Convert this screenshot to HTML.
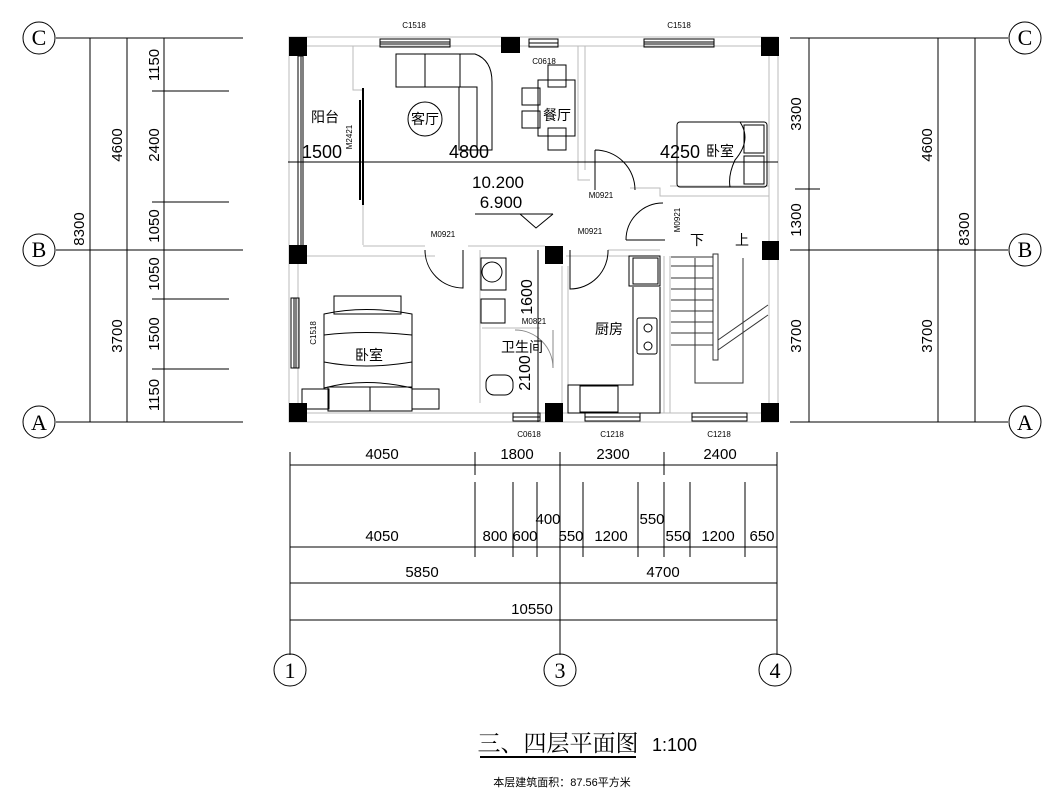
<!DOCTYPE html>
<html><head><meta charset="utf-8"><style>
html,body{margin:0;padding:0;background:#fff}
svg{display:block}
text{font-family:"Liberation Sans","Noto Sans CJK SC",sans-serif;fill:#000}
.c{font-family:"Liberation Serif",serif}
</style></head><body>
<svg width="1055" height="797" viewBox="0 0 1055 797" xmlns="http://www.w3.org/2000/svg">
<g stroke="#000" stroke-width="1" fill="none">
<line x1="56" y1="38" x2="243" y2="38"/><line x1="56" y1="250" x2="243" y2="250"/><line x1="56" y1="422" x2="243" y2="422"/>
<line x1="90" y1="38" x2="90" y2="422"/><line x1="127" y1="38" x2="127" y2="422"/><line x1="164" y1="38" x2="164" y2="422"/>
<line x1="152" y1="91" x2="229" y2="91"/><line x1="152" y1="202" x2="229" y2="202"/><line x1="152" y1="299" x2="229" y2="299"/><line x1="152" y1="369" x2="229" y2="369"/>
<circle cx="39" cy="38" r="16"/><circle cx="39" cy="250" r="16"/><circle cx="39" cy="422" r="16"/>
<line x1="790" y1="38" x2="1008" y2="38"/><line x1="790" y1="250" x2="1008" y2="250"/><line x1="790" y1="422" x2="1008" y2="422"/>
<line x1="809" y1="38" x2="809" y2="422"/><line x1="938" y1="38" x2="938" y2="422"/><line x1="975" y1="38" x2="975" y2="422"/>
<line x1="795" y1="189" x2="820" y2="189"/>
<circle cx="1025" cy="38" r="16"/><circle cx="1025" cy="250" r="16"/><circle cx="1025" cy="422" r="16"/>
<line x1="290" y1="465" x2="777" y2="465"/><line x1="290" y1="547" x2="777" y2="547"/><line x1="290" y1="583" x2="777" y2="583"/><line x1="290" y1="620" x2="777" y2="620"/>
<line x1="290" y1="452" x2="290" y2="655"/><line x1="560" y1="452" x2="560" y2="655"/><line x1="777" y1="452" x2="777" y2="655"/>
<line x1="475" y1="452" x2="475" y2="475"/><line x1="664" y1="452" x2="664" y2="475"/>
<g><line x1="475" y1="482" x2="475" y2="557"/><line x1="513" y1="482" x2="513" y2="557"/><line x1="537" y1="482" x2="537" y2="557"/><line x1="583" y1="482" x2="583" y2="557"/><line x1="638" y1="482" x2="638" y2="557"/><line x1="664" y1="482" x2="664" y2="557"/><line x1="690" y1="482" x2="690" y2="557"/><line x1="745" y1="482" x2="745" y2="557"/></g>
<circle cx="290" cy="670" r="16"/><circle cx="560" cy="670" r="16"/><circle cx="775" cy="670" r="16"/>
<line x1="480" y1="757" x2="636" y2="757" stroke-width="2"/>
<g stroke="#bbb">
<rect x="289" y="37" width="489" height="385"/>
<rect x="298" y="46" width="471" height="367"/>
<polyline points="353,46 353,90 363,90 363,245"/><polyline points="298,256 435,256"/>
<polyline points="363,246 425,246"/><polyline points="468,246 545,246"/>
<polyline points="578,46 578,180 590,180"/><polyline points="585,46 585,170"/>
<polyline points="630,188 660,188 660,196 769,196"/><polyline points="670,186 769,186"/>
<polyline points="608,250 660,250"/><polyline points="566,256 660,256"/>
<line x1="480" y1="250" x2="480" y2="403"/><line x1="482" y1="328" x2="540" y2="328"/>
<line x1="562" y1="266" x2="562" y2="403"/><line x1="568" y1="266" x2="568" y2="403"/>
<line x1="664" y1="256" x2="664" y2="413"/><line x1="670" y1="256" x2="670" y2="413"/>
</g>
<rect x="298" y="56" width="5" height="190" stroke="#000"/>
<line x1="301" y1="56" x2="301" y2="246"/>
<g stroke="#000">
<rect x="380" y="39" width="70" height="8"/><line x1="380" y1="42" x2="450" y2="42"/><line x1="380" y1="44" x2="450" y2="44"/>
<rect x="529" y="39" width="29" height="8"/><line x1="529" y1="43" x2="558" y2="43"/>
<rect x="644" y="39" width="70" height="8"/><line x1="644" y1="42" x2="714" y2="42"/><line x1="644" y1="44" x2="714" y2="44"/>
<rect x="291" y="298" width="8" height="70"/><line x1="294" y1="298" x2="294" y2="368"/><line x1="296" y1="298" x2="296" y2="368"/>
<rect x="513" y="413" width="27" height="8"/><line x1="513" y1="417" x2="540" y2="417"/>
<rect x="585" y="413" width="55" height="8"/><line x1="585" y1="417" x2="640" y2="417"/>
<rect x="692" y="413" width="55" height="8"/><line x1="692" y1="417" x2="747" y2="417"/>
</g>
<g fill="#000" stroke="none">
<rect x="289" y="37" width="18" height="19"/><rect x="761" y="37" width="18" height="19"/><rect x="501" y="37" width="19" height="16"/>
<rect x="289" y="245" width="18" height="19"/><rect x="762" y="241" width="17" height="19"/><rect x="545" y="246" width="18" height="18"/>
<rect x="289" y="403" width="18" height="19"/><rect x="761" y="403" width="18" height="19"/><rect x="545" y="403" width="18" height="19"/>
</g>
<line x1="363" y1="88" x2="363" y2="205" stroke-width="2"/><line x1="360" y1="100" x2="360" y2="200" stroke-width="2"/>
<rect x="396" y="54" width="64" height="33"/><line x1="425" y1="54" x2="425" y2="87"/>
<path d="M460 54 H475 Q492 60 492 82 V150 H459 V87 H460"/><line x1="460" y1="54" x2="460" y2="87"/><path d="M459 87 H477 V150"/>
<circle cx="425" cy="119" r="17"/>
<rect x="538" y="80" width="37" height="56"/>
<rect x="548" y="65" width="18" height="22"/><rect x="548" y="128" width="18" height="22"/>
<rect x="522" y="88" width="18" height="17"/><rect x="522" y="111" width="18" height="17"/>
<rect x="677" y="122" width="90" height="65" rx="3"/><rect x="744" y="125" width="20" height="28"/><rect x="744" y="156" width="20" height="28"/>
<path d="M740 122 Q752 140 735 160 Q728 175 730 187"/>
<path d="M595 150 V190 M595 150 A40 40 0 0 1 635 190"/>
<path d="M626 240 A37 37 0 0 1 663 203 M626 240 H665"/>
<path d="M425 250 A38 38 0 0 0 463 288 V250"/>
<path d="M570 250 V289 A38 38 0 0 0 608 250"/>
<path d="M515 330 A38 38 0 0 1 553 368 V330" stroke="#888"/>
<rect x="481" y="258" width="25" height="32"/><circle cx="492" cy="272" r="10"/>
<rect x="481" y="299" width="24" height="24"/>
<rect x="486" y="375" width="27" height="20" rx="8"/>
<line x1="538" y1="250" x2="538" y2="422"/>
<rect x="629" y="256" width="31" height="30"/><rect x="633" y="258" width="25" height="26"/>
<polyline points="633,287 633,385 568,385 568,413 660,413 660,287"/>
<rect x="637" y="318" width="20" height="36" rx="2"/><circle cx="648" cy="328" r="4"/><circle cx="648" cy="346" r="4"/>
<rect x="580" y="386" width="38" height="26"/>
<g stroke="#333">
<line x1="671" y1="257" x2="713" y2="257"/><line x1="671" y1="266" x2="713" y2="266"/><line x1="671" y1="278" x2="713" y2="278"/><line x1="671" y1="289" x2="713" y2="289"/><line x1="671" y1="300" x2="713" y2="300"/><line x1="671" y1="311" x2="713" y2="311"/><line x1="671" y1="322" x2="713" y2="322"/><line x1="671" y1="333" x2="713" y2="333"/><line x1="671" y1="345" x2="713" y2="345"/>
<rect x="713" y="254" width="5" height="106"/>
<polyline points="695,258 695,383 743,383 743,258"/>
<line x1="718" y1="340" x2="768" y2="305"/><line x1="718" y1="350" x2="768" y2="315"/>
</g>
<rect x="334" y="296" width="67" height="18"/>
<path d="M324 314 Q365 305 412 314 V388 Q365 377 324 388 Z"/>
<path d="M324 335 Q365 330 412 335 M324 362 Q365 370 412 362"/>
<rect x="302" y="389" width="27" height="20"/><rect x="412" y="389" width="27" height="20"/>
<rect x="328" y="387" width="84" height="24"/><line x1="370" y1="387" x2="370" y2="411"/>
<line x1="475" y1="214" x2="553" y2="214"/><path d="M520 214 L536 228 L553 214"/>
<line x1="288" y1="162" x2="778" y2="162"/>
</g>
<g font-size="20" class="c">
<text class="c" x="39" y="45" text-anchor="middle" font-size="22">C</text>
<text class="c" x="39" y="257" text-anchor="middle" font-size="22">B</text>
<text class="c" x="39" y="430" text-anchor="middle" font-size="22">A</text>
<text class="c" x="1025" y="45" text-anchor="middle" font-size="22">C</text>
<text class="c" x="1025" y="257" text-anchor="middle" font-size="22">B</text>
<text class="c" x="1025" y="430" text-anchor="middle" font-size="22">A</text>
<text class="c" x="290" y="678" text-anchor="middle" font-size="22">1</text>
<text class="c" x="560" y="678" text-anchor="middle" font-size="22">3</text>
<text class="c" x="775" y="678" text-anchor="middle" font-size="22">4</text>
</g>
<g font-size="15" text-anchor="middle">
<text transform="translate(84,229) rotate(-90)">8300</text>
<text transform="translate(122,145) rotate(-90)">4600</text>
<text transform="translate(122,336) rotate(-90)">3700</text>
<text transform="translate(159,65) rotate(-90)">1150</text>
<text transform="translate(159,145) rotate(-90)">2400</text>
<text transform="translate(159,226) rotate(-90)">1050</text>
<text transform="translate(159,274) rotate(-90)">1050</text>
<text transform="translate(159,334) rotate(-90)">1500</text>
<text transform="translate(159,395) rotate(-90)">1150</text>
<text transform="translate(801,114) rotate(-90)">3300</text>
<text transform="translate(801,220) rotate(-90)">1300</text>
<text transform="translate(801,336) rotate(-90)">3700</text>
<text transform="translate(932,145) rotate(-90)">4600</text>
<text transform="translate(932,336) rotate(-90)">3700</text>
<text transform="translate(969,229) rotate(-90)">8300</text>
<text x="382" y="459">4050</text><text x="517" y="459">1800</text><text x="613" y="459">2300</text><text x="720" y="459">2400</text>
<text x="382" y="541">4050</text><text x="495" y="541">800</text><text x="525" y="541">600</text><text x="548" y="524">400</text>
<text x="571" y="541">550</text><text x="611" y="541">1200</text><text x="652" y="524">550</text><text x="678" y="541">550</text><text x="718" y="541">1200</text><text x="762" y="541">650</text>
<text x="422" y="577">5850</text><text x="663" y="577">4700</text><text x="532" y="614">10550</text>
<text x="322" y="158" font-size="18">1500</text><text x="469" y="158" font-size="18">4800</text><text x="680" y="158" font-size="18">4250</text>
<text x="498" y="188" font-size="17">10.200</text><text x="501" y="208" font-size="17">6.900</text>
<text transform="translate(532,297) rotate(-90)" font-size="16">1600</text>
<text transform="translate(530,373) rotate(-90)" font-size="16">2100</text>
</g>
<g font-size="8" text-anchor="middle">
<text x="414" y="28">C1518</text><text x="679" y="28">C1518</text><text x="544" y="64">C0618</text>
<text x="601" y="198">M0921</text><text x="443" y="237">M0921</text><text x="590" y="234">M0921</text><text x="534" y="324">M0821</text>
<text x="529" y="437">C0618</text><text x="612" y="437">C1218</text><text x="719" y="437">C1218</text>
<text transform="translate(352,137) rotate(-90)">M2421</text>
<text transform="translate(680,220) rotate(-90)">M0921</text>
<text transform="translate(316,333) rotate(-90)">C1518</text>
</g>
<g font-size="14" text-anchor="middle">
<text x="325" y="122">阳台</text><text x="425" y="124">客厅</text><text x="557" y="120">餐厅</text><text x="720" y="156">卧室</text>
<text x="369" y="360">卧室</text><text x="522" y="352">卫生间</text><text x="609" y="334">厨房</text>
<text x="697" y="245">下</text><text x="742" y="245">上</text>
</g>
<text x="558" y="751" font-size="23" text-anchor="middle" style="font-family:'Noto Serif CJK SC',serif">三、四层平面图</text>
<text x="652" y="751" font-size="18">1:100</text>
<text x="562" y="786" font-size="11" text-anchor="middle">本层建筑面积：87.56平方米</text>
</svg>
</body></html>
